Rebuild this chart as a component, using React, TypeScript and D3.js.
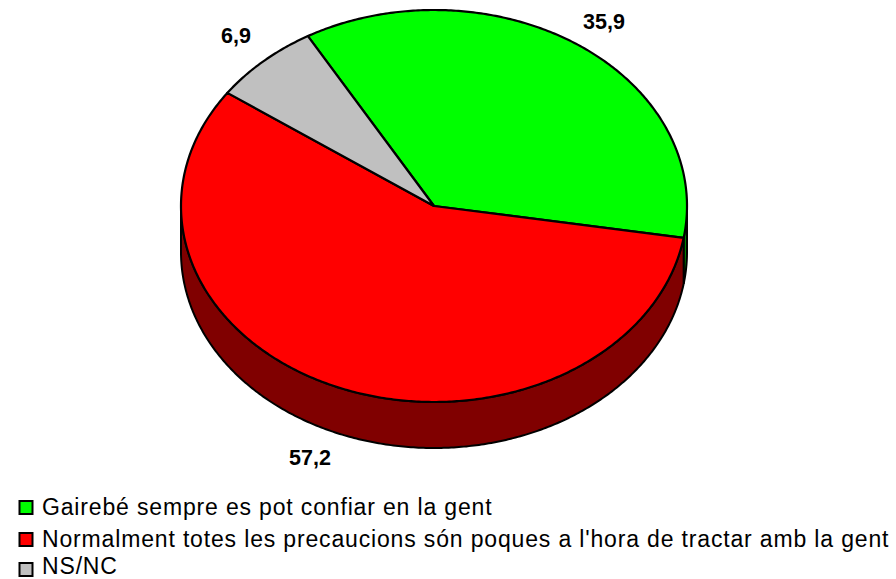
import React from "react";
import * as d3 from "d3";

const categories = [
  "Gairebé sempre es pot confiar en la gent",
  "Normalment totes les precaucions són poques a l'hora de tractar amb la gent",
  "NS/NC",
];
const values = [35.9, 57.2, 6.9];
const valueLabels = ["35,9", "57,2", "6,9"];
const topColors = ["#00ff00", "#ff0000", "#c0c0c0"];
const sideColors = ["#008000", "#800000", "#606060"];
const labelPositions = [
  [604, 29],
  [310, 465],
  [236, 43],
];
const legendBaselines = [515, 547, 574];
const legendSwatchTops = [501, 533, 563];

const cx = 434;
const cy = 206;
const rx = 253;
const ry = 196;
const depth = 46;
const font = "'Liberation Sans', Arial, sans-serif";

const startAngle = (-29.9 * Math.PI) / 180;

// parametric angle -> point on the tilted top ellipse
const px = (a: number) => cx + rx * Math.sin(a);
const py = (a: number) => cy - ry * Math.cos(a);

function samples(a0: number, a1: number) {
  const n = Math.max(2, Math.ceil(Math.abs(a1 - a0) / 0.01));
  return d3.range(n + 1).map((i) => a0 + ((a1 - a0) * i) / n);
}

const line = d3.line<number>().x(px).y(py);

export default function App() {
  const pie = d3
    .pie<number>()
    .sort(null)
    .startAngle(startAngle)
    .endAngle(startAngle + 2 * Math.PI);
  const arcs = pie(values);

  const sideArea = d3
    .area<number>()
    .x(px)
    .y0(py)
    .y1((a) => py(a) + depth);

  return (
    <svg
      width={896}
      height={579}
      style={{ position: "absolute", left: 0, top: 0 }}
      fontFamily={font}
    >
      {arcs.map((d, i) => {
        // only the front half of the rim shows (PI/2 .. 3PI/2)
        const a0 = Math.max(d.startAngle, Math.PI / 2);
        const a1 = Math.min(d.endAngle, (3 * Math.PI) / 2);
        if (a1 <= a0) return null;
        return (
          <path
            key={i}
            d={sideArea(samples(a0, a1)) + "Z"}
            fill={sideColors[i]}
            stroke="#000"
            strokeWidth={2}
          />
        );
      })}
      {arcs.map((d, i) => (
        <path
          key={i}
          d={`M${cx},${cy}L${line(samples(d.startAngle, d.endAngle))!.slice(1)}Z`}
          fill={topColors[i]}
          stroke="#000"
          strokeWidth={2.2}
          strokeLinejoin="round"
        />
      ))}
      {valueLabels.map((t, i) => (
        <text
          key={t}
          x={labelPositions[i][0]}
          y={labelPositions[i][1]}
          textAnchor="middle"
          fontWeight="bold"
          fontSize={21.5}
          fill="#000"
        >
          {t}
        </text>
      ))}
      {categories.map((c, i) => (
        <g key={c}>
          <rect
            x={19.5}
            y={legendSwatchTops[i]}
            width={13}
            height={13}
            fill={topColors[i]}
            stroke="#000"
            strokeWidth={2}
          />
          <text x={42} y={legendBaselines[i]} fontSize={23} letterSpacing={0.84} fill="#000">
            {c}
          </text>
        </g>
      ))}
    </svg>
  );
}
